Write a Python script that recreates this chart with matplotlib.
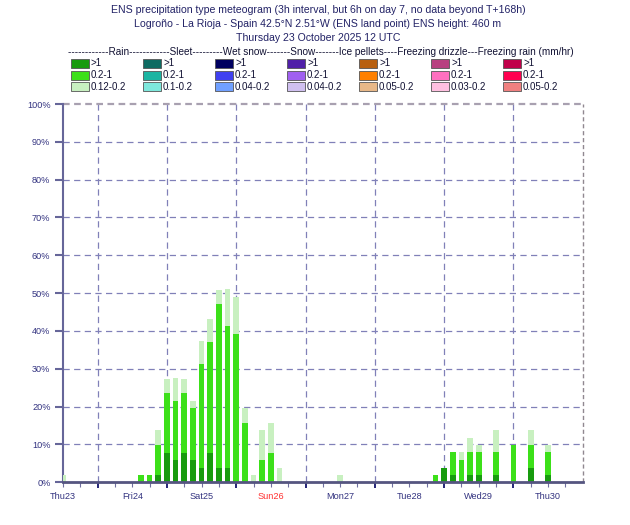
import numpy as np
import matplotlib
matplotlib.use("Agg")
import matplotlib.pyplot as plt
from matplotlib.patches import Rectangle

plt.rcParams['font.family'] = ['Liberation Sans', 'DejaVu Sans']

W, H = 630, 525

title_lines = [
    "ENS precipitation type meteogram (3h interval, but 6h on day 7, no data beyond T+168h)",
    "Logroño - La Rioja - Spain 42.5°N 2.51°W (ENS land point) ENS height: 460 m",
    "Thursday 23 October 2025 12 UTC",
]

# forecast step (hours since base time) of each bar
steps = [0, 27, 30, 33, 36, 39, 42, 45, 48, 51, 54, 57, 60, 63, 66, 69, 72, 75,
         96, 129, 132, 135, 138, 141, 144, 150, 156, 162, 168]
# rain probabilities (%), per intensity class
rain_heavy = [0, 0, 0, 2.0, 7.8, 5.9, 7.8, 5.9, 3.9, 7.8, 3.9, 3.9, 0, 0, 0, 0, 0, 0,
              0, 0, 3.9, 2.0, 0, 2.0, 2.0, 2.0, 0, 3.9, 2.0]
rain_mod = [0, 2.0, 2.0, 7.8, 15.7, 15.7, 15.7, 13.7, 27.5, 29.4, 43.1, 37.3, 39.2, 15.7,
            0, 5.9, 7.8, 0, 0, 2.0, 0, 5.9, 5.9, 5.9, 5.9, 5.9, 9.8, 5.9, 5.9]
rain_light = [2.0, 0, 0, 3.9, 3.9, 5.9, 3.9, 2.0, 5.9, 5.9, 3.9, 9.8, 9.8, 3.9,
              2.0, 7.8, 7.8, 3.9, 2.0, 0, 0, 0, 2.0, 3.9, 2.0, 5.9, 0, 3.9, 2.0]

day_labels = ["Thu23", "Fri24", "Sat25", "Sun26", "Mon27", "Tue28", "Wed29", "Thu30"]
day_colors = ["#333380"] * 3 + ["#ff3030"] + ["#333380"] * 4

legend_header = ("------------Rain------------Sleet---------Wet snow-------Snow-------"
                 "Ice pellets----Freezing drizzle---Freezing rain (mm/hr)")
legend_cols = [
    (["#189b0e", "#3ce019", "#c8f0c0"], [">1", "0.2-1", "0.12-0.2"]),
    (["#0e6b62", "#1bb5a2", "#7ee8dc"], [">1", "0.2-1", "0.1-0.2"]),
    (["#000060", "#4040f0", "#70a0ff"], [">1", "0.2-1", "0.04-0.2"]),
    (["#5020a8", "#a060f0", "#d0c0f0"], [">1", "0.2-1", "0.04-0.2"]),
    (["#b86010", "#ff8000", "#e8b888"], [">1", "0.2-1", "0.05-0.2"]),
    (["#b84080", "#ff70c0", "#ffc0e0"], [">1", "0.2-1", "0.03-0.2"]),
    (["#c0004a", "#ff0050", "#f08080"], [">1", "0.2-1", "0.05-0.2"]),
]

fig = plt.figure(figsize=(W / 100, H / 100), dpi=100)

def fx(px):
    return px / W

def fy(py):
    return 1 - py / H

# titles
for y, line in zip([10, 24, 38], title_lines):
    fig.text(fx(318), fy(y), line, ha="center", va="center", fontsize=7.6, color="#222266")

# legend
fig.text(fx(68), fy(52), legend_header, ha="left", va="center", fontsize=7.2, color="#111133")
for i, (cols, labs) in enumerate(legend_cols):
    x0 = 71 + 72 * i
    for j, (c, lab) in enumerate(zip(cols, labs)):
        y0 = 59 + 11.5 * j
        fig.patches.append(Rectangle((fx(x0), fy(y0 + 9)), fx(18), 9 / H, facecolor=c,
                                     edgecolor="#555555", linewidth=0.6,
                                     transform=fig.transFigure, figure=fig))
        fig.text(fx(x0 + 20), fy(y0 + 4.5), lab, ha="left", va="center",
                 fontsize=7, color="#111133")

ax = fig.add_axes([fx(63), fy(482.3), fx(582.7 - 63), (482.3 - 104) / H])

t = np.array(steps)
heavy = np.array(rain_heavy)
mod = np.array(rain_mod)
light = np.array(rain_light)
bw = 1.95
ax.bar(t, heavy, width=bw, color="#189b0e", zorder=3)
ax.bar(t, mod, width=bw, bottom=heavy, color="#3ce019", zorder=3)
ax.bar(t, light, width=bw, bottom=heavy + mod, color="#c8f0c0", zorder=3)

ax.set_xlim(0, 180)
ax.set_ylim(0, 100)

grid_c = "#8080b8"
for v in range(10, 100, 10):
    ax.axhline(v, color=grid_c, lw=0.9, dashes=(5, 3.5), zorder=1)
for d in range(12, 180, 24):
    ax.axvline(d, color=grid_c, lw=0.9, dashes=(5, 3.5), zorder=1)
ax.axhline(100, color="#a8a0b0", lw=1.6, dashes=(3, 2), zorder=2, clip_on=False)
ax.axvline(180, color="#908890", lw=1.0, dashes=(3, 2), zorder=2, clip_on=False)

for s in ["top", "right"]:
    ax.spines[s].set_visible(False)
ax.spines["left"].set_color("#666699")
ax.spines["left"].set_linewidth(1.5)
ax.spines["bottom"].set_color("#555580")
ax.spines["bottom"].set_linewidth(2)
ax.spines["bottom"].set_zorder(4)

ax.set_yticks(range(0, 101, 10))
ax.set_yticklabels([f"{v}%" for v in range(0, 101, 10)], fontsize=6.6, color="#333380")
ax.tick_params(axis="y", length=6, width=1.5, color="#666699", pad=3)

ax.set_xticks(range(12, 180, 24))
ax.set_xticklabels([])
ax.tick_params(axis="x", which="major", length=4.5, width=1.2, color="#000060", direction="out")
ax.set_xticks([d for d in range(0, 180, 6) if d % 24 != 12], minor=True)
ax.tick_params(axis="x", which="minor", length=3.5, width=0.8, color="#7070a0")

for k, (lab, c) in enumerate(zip(day_labels, day_colors)):
    ax.text(24 * k, -3.8, lab, ha="center", va="center", fontsize=6.6, color=c,
            clip_on=False)

fig.savefig("out.png", dpi=100)
